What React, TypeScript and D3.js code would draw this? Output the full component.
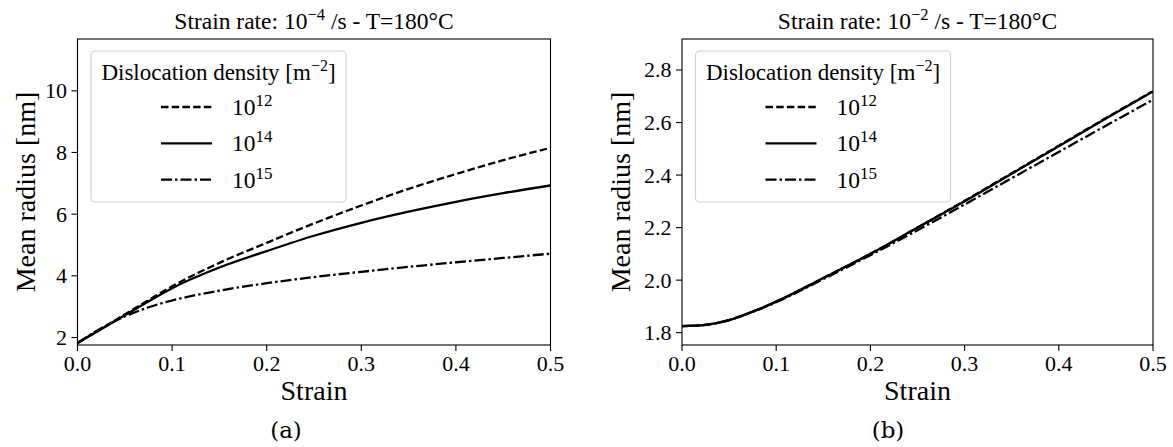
import React from "react";
import * as d3 from "d3";

// ---- data ----
const strainA = [0, 0.025, 0.05, 0.075, 0.1, 0.15, 0.2, 0.25, 0.3, 0.35, 0.4, 0.45, 0.5];
const r12A = [1.82, 2.28, 2.75, 3.21, 3.66, 4.42, 5.07, 5.7, 6.28, 6.82, 7.3, 7.75, 8.15];
const r14A = [1.82, 2.27, 2.72, 3.17, 3.6, 4.27, 4.8, 5.3, 5.72, 6.08, 6.4, 6.68, 6.93];
const r15A = [1.82, 2.3, 2.68, 2.98, 3.2, 3.52, 3.76, 3.96, 4.13, 4.29, 4.44, 4.58, 4.72];

const strainB = [0, 0.025, 0.05, 0.075, 0.1, 0.15, 0.2, 0.25, 0.3, 0.35, 0.4, 0.45, 0.5];
const r12B = [1.825, 1.83, 1.848, 1.88, 1.918, 2.008, 2.1, 2.2, 2.302, 2.407, 2.512, 2.617, 2.72];
const r14B = [1.825, 1.83, 1.848, 1.88, 1.918, 2.008, 2.1, 2.2, 2.3, 2.405, 2.51, 2.615, 2.718];
const r15B = [1.825, 1.83, 1.848, 1.879, 1.916, 2.004, 2.095, 2.19, 2.288, 2.388, 2.488, 2.588, 2.687];

const xTicks = [0, 0.1, 0.2, 0.3, 0.4, 0.5];
const yTicksA = [2, 4, 6, 8, 10];
const yTicksB = [1.8, 2.0, 2.2, 2.4, 2.6, 2.8];
const legendExponents = ["12", "14", "15"];
const titleExponents = ["−4", "−2"];
const captions = ["(a)", "(b)"];

const FONT = "'Liberation Serif', 'Times New Roman', serif";
const CAPFONT = "'DejaVu Serif', serif";
const DASHES = ["7.5,3.2", "none", "11,3,2.5,3"];

type PanelProps = {
  left: number;
  right: number;
  strain: number[];
  series: number[][];
  yDomain: [number, number];
  yTicks: number[];
  yFmt: (v: number) => string;
  titleExp: string;
  caption: string;
  captionX: number;
  yLabelX: number;
};

const TOP = 39;
const BOTTOM = 345;

function Panel(p: PanelProps) {
  const x = d3.scaleLinear().domain([0, 0.5]).range([p.left, p.right]);
  const y = d3.scaleLinear().domain(p.yDomain).range([BOTTOM, TOP]);
  const cx = (p.left + p.right) / 2;
  const clipId = "clip" + Math.round(p.left);
  const lines = p.series.map((s) =>
    d3
      .line<number>()
      .x((_, i) => x(p.strain[i]))
      .y((d) => y(d))
      .curve(d3.curveMonotoneX)(s) as string
  );
  const lgX = p.left + 13.5;
  const lgY = 51;
  const lgW = 255;
  const lgH = 151;
  return (
    <g>
      <defs>
        <clipPath id={clipId}>
          <rect x={p.left} y={TOP} width={p.right - p.left} height={BOTTOM - TOP} />
        </clipPath>
      </defs>
      {/* title */}
      <text x={cx} y={28.5} textAnchor="middle" fontSize={23.5} fontFamily={FONT}>
        Strain rate: 10
        <tspan dy={-9} fontSize={16.5}>{p.titleExp}</tspan>
        <tspan dy={9}> /s - T=180°C</tspan>
      </text>
      {/* curves */}
      <g clipPath={`url(#${clipId})`}>
        {lines.map((d, i) => (
          <path key={i} d={d} fill="none" stroke="#000" strokeWidth={2.3} strokeDasharray={DASHES[i]} />
        ))}
      </g>
      {/* frame */}
      <rect x={p.left} y={TOP} width={p.right - p.left} height={BOTTOM - TOP} fill="none" stroke="#000" strokeWidth={1.1} />
      {/* x ticks */}
      {xTicks.map((t) => (
        <g key={t}>
          <line x1={x(t)} x2={x(t)} y1={BOTTOM} y2={BOTTOM + 6} stroke="#000" strokeWidth={1.1} />
          <text x={x(t)} y={371} textAnchor="middle" fontSize={22} fontFamily={FONT}>
            {t.toFixed(1)}
          </text>
        </g>
      ))}
      {/* y ticks */}
      {p.yTicks.map((t) => (
        <g key={t}>
          <line x1={p.left - 6} x2={p.left} y1={y(t)} y2={y(t)} stroke="#000" strokeWidth={1.1} />
          <text x={p.left - 10.5} y={y(t) + 7.5} textAnchor="end" fontSize={22} fontFamily={FONT}>
            {p.yFmt(t)}
          </text>
        </g>
      ))}
      {/* axis labels */}
      <text x={cx} y={400} textAnchor="middle" fontSize={28} fontFamily={FONT}>
        Strain
      </text>
      <text
        transform={`translate(${p.yLabelX},${(TOP + BOTTOM) / 2}) rotate(-90)`}
        textAnchor="middle"
        fontSize={28}
        fontFamily={FONT}
      >
        Mean radius [nm]
      </text>
      {/* legend */}
      <rect x={lgX} y={lgY} width={lgW} height={lgH} rx={4} fill="#fff" fillOpacity={0.8} stroke="#d0d0d0" strokeWidth={1.1} />
      <text x={lgX + lgW / 2} y={80} textAnchor="middle" fontSize={23} fontFamily={FONT}>
        Dislocation density [m
        <tspan dy={-9} fontSize={16}>−2</tspan>
        <tspan dy={9}>]</tspan>
      </text>
      {legendExponents.map((e, i) => {
        const ly = 107 + i * 36.3;
        return (
          <g key={e}>
            <line x1={lgX + 70} x2={lgX + 121} y1={ly} y2={ly} stroke="#000" strokeWidth={2.3} strokeDasharray={DASHES[i]} />
            <text x={lgX + 141} y={ly + 8} fontSize={23.5} fontFamily={FONT}>
              10
              <tspan dy={-9} fontSize={17}>{e}</tspan>
            </text>
          </g>
        );
      })}
      {/* caption */}
      <text x={p.captionX} y={438} textAnchor="middle" fontSize={23} fontFamily={CAPFONT}>
        {p.caption}
      </text>
    </g>
  );
}

export default function App() {
  return (
    <svg
      width={1173}
      height={447}
      viewBox="0 0 1173 447"
      style={{ position: "absolute", left: 0, top: 0, background: "#fff" }}
    >
      <rect width={1173} height={447} fill="#fff" />
      <Panel
        left={77.5}
        right={550.5}
        strain={strainA}
        series={[r12A, r14A, r15A]}
        yDomain={[1.757, 11.68]}
        yTicks={yTicksA}
        yFmt={(v) => String(v)}
        titleExp={titleExponents[0]}
        caption={captions[0]}
        captionX={286}
        yLabelX={35}
      />
      <Panel
        left={682}
        right={1153}
        strain={strainB}
        series={[r12B, r14B, r15B]}
        yDomain={[1.753, 2.918]}
        yTicks={yTicksB}
        yFmt={(v) => v.toFixed(1)}
        titleExp={titleExponents[1]}
        caption={captions[1]}
        captionX={888}
        yLabelX={630}
      />
    </svg>
  );
}
